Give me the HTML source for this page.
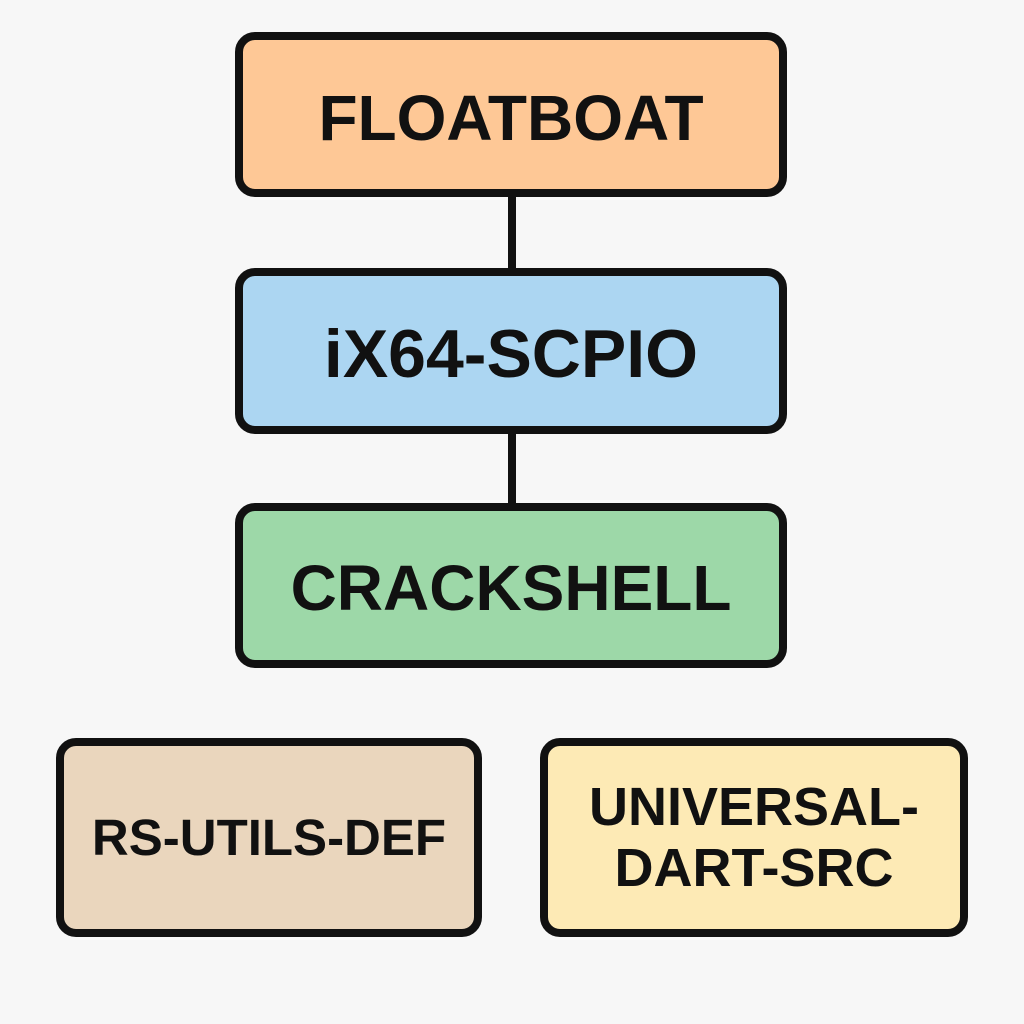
<!DOCTYPE html>
<html><head><style>
body{margin:0;width:1024px;height:1024px;background:#f7f7f7;position:relative;overflow:hidden;font-family:"Liberation Sans",sans-serif;}
.b{position:absolute;box-sizing:border-box;border:8px solid #111;border-radius:20px;display:flex;align-items:center;justify-content:center;text-align:center;font-weight:bold;color:#111;}
.l{position:absolute;background:#111;width:8px;left:508px;}
</style></head><body>
<div class="l" style="top:190px;height:85px"></div>
<div class="l" style="top:428px;height:82px"></div>
<div class="b" style="left:235px;top:32px;width:552px;height:165px;background:#fec896;font-size:64px;padding-top:6px">FLOATBOAT</div>
<div class="b" style="left:235px;top:268px;width:552px;height:166px;background:#acd6f2;font-size:68px;padding-top:6px">iX64-SCPIO</div>
<div class="b" style="left:235px;top:503px;width:552px;height:165px;background:#9dd8a8;font-size:64px;padding-top:4px">CRACKSHELL</div>
<div class="b" style="left:56px;top:738px;width:426px;height:199px;background:#ead6bd;font-size:51px">RS-UTILS-DEF</div>
<div class="b" style="left:540px;top:738px;width:428px;height:199px;background:#fdeab5;font-size:54px;line-height:1.12">UNIVERSAL-<br>DART-SRC</div>
</body></html>
